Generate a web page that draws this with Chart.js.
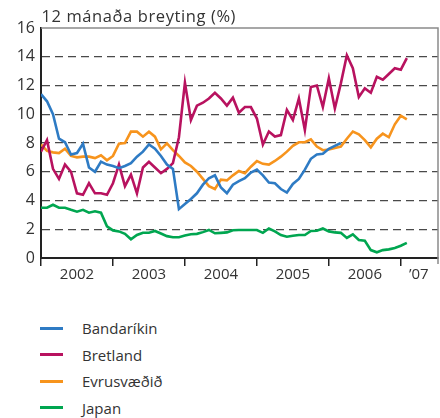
<!DOCTYPE html>
<html>
<head>
<meta charset="utf-8">
<script src="https://cdn.jsdelivr.net/npm/chart.js@4"></script>
<style>
  body { margin: 0; background: #fff; }
  #wrap { position: relative; width: 440px; height: 418px; }
  #chart { position: absolute; left: 0; top: 0; }
  #legend { position: absolute; left: 40px; top: 315px; font: 15px 'Open Sans', sans-serif; color: #333; }
  .item { height: 26.5px; display: flex; align-items: center; }
  .swatch { width: 23px; height: 3px; margin-right: 19px; }
</style>
</head>
<body>
<div id="wrap">
  <canvas id="chart" width="440" height="290"></canvas>
  <div id="legend"></div>
</div>
<script>
'use strict';

// monthly values, Jan 2002 onwards
const seriesNames = ['Bandaríkin', 'Bretland', 'Evrusvæðið', 'Japan'];
const seriesColors = ['#2e7bc4', '#b8125f', '#f7941d', '#00a650'];

const bandarikin = [11.4, 10.9, 10.0, 8.3, 8.05, 7.2, 7.3, 7.95, 6.3, 6.0, 6.7, 6.5,
    6.4, 6.25, 6.4, 6.6, 7.05, 7.4, 7.9, 7.6, 7.1, 6.5, 6.2, 3.4,
    3.75, 4.1, 4.5, 5.1, 5.55, 5.75, 4.9, 4.5, 5.1, 5.35, 5.55, 5.95,
    6.15, 5.75, 5.25, 5.2, 4.8, 4.55, 5.15, 5.5, 6.15, 6.9, 7.2, 7.25,
    7.6, 7.8, 8.0];
const bretland = [7.4, 8.2, 6.2, 5.5, 6.5, 6.0, 4.5, 4.4, 5.2, 4.5, 4.5, 4.4,
    5.2, 6.5, 5.0, 5.8, 4.5, 6.3, 6.7, 6.3, 5.9, 6.2, 6.6, 8.4,
    12.2, 9.6, 10.6, 10.8, 11.1, 11.5, 11.1, 10.6, 11.15, 10.1, 10.5, 10.5,
    9.7, 7.9, 8.8, 8.45, 8.55, 10.3, 9.6, 11.1, 8.9, 11.9, 12.0, 10.5,
    12.5, 10.4, 12.15, 14.1, 13.2, 11.2, 11.8, 11.5, 12.6, 12.4, 12.8, 13.2,
    13.1, 13.9];
const evrusvaedid = [7.9, 7.45, 7.35, 7.3, 7.6, 7.1, 7.0, 7.05, 7.05, 6.95, 7.15, 6.8,
    7.1, 7.95, 8.0, 8.79, 8.79, 8.44, 8.79, 8.44, 7.56, 7.98, 7.5, 7.1,
    6.65, 6.4, 6.0, 5.5, 5.0, 4.8, 5.45, 5.4, 5.75, 6.05, 5.9, 6.35,
    6.75, 6.55, 6.5, 6.75, 7.05, 7.4, 7.8, 8.05, 8.05, 8.25, 7.75, 7.5,
    7.55, 7.65, 7.75, 8.3, 8.8, 8.6, 8.2, 7.7, 8.3, 8.65, 8.4, 9.3,
    9.9, 9.65];
const japan = [3.5, 3.5, 3.7, 3.5, 3.5, 3.35, 3.22, 3.35, 3.15, 3.25, 3.15, 2.2,
    1.92, 1.85, 1.68, 1.3, 1.6, 1.76, 1.76, 1.88, 1.7, 1.52, 1.44, 1.44,
    1.56, 1.65, 1.68, 1.8, 1.95, 1.72, 1.75, 1.78, 1.93, 1.95, 1.95, 1.95,
    1.95, 1.75, 2.05, 1.85, 1.6, 1.48, 1.55, 1.6, 1.6, 1.88, 1.9, 2.05,
    1.85, 1.78, 1.75, 1.4, 1.65, 1.25, 1.2, 0.55, 0.4, 0.55, 0.6, 0.7,
    0.85, 1.05];

// year labels sit between the yearly tick marks
const yearTicks = [0, 12, 24, 36, 48, 60];
const yearLabelPos = [6, 18, 30, 42, 54, 63];
const yearLabels = ['2002', '2003', '2004', '2005', '2006', '\u201907'];
const yTitle = '12 mánaða breyting (%)';

const allSeries = [bandarikin, bretland, evrusvaedid, japan];
const FONT = "'Open Sans', sans-serif";

const datasets = allSeries.map((vals, s) => ({
    label: seriesNames[s],
    data: vals.map((v, i) => ({x: i, y: v})),
    borderColor: seriesColors[s],
    backgroundColor: seriesColors[s],
    borderWidth: 2.6,
    pointRadius: 0,
    tension: 0,
    fill: false
}));

const frame = {
    id: 'frame',
    afterDraw(chart) {
        const {ctx, chartArea: a} = chart;
        ctx.save();
        ctx.strokeStyle = '#8a8a8a';
        ctx.lineWidth = 1.5;
        ctx.beginPath();
        ctx.moveTo(a.left, a.top);
        ctx.lineTo(a.right, a.top);
        ctx.lineTo(a.right, a.bottom + 6);
        ctx.stroke();
        // axis title, top left above the plot
        ctx.fillStyle = '#333';
        ctx.font = '16.5px ' + FONT;
        ctx.letterSpacing = '0.6px';
        ctx.textBaseline = 'alphabetic';
        ctx.textAlign = 'left';
        ctx.fillText(yTitle, a.left + 0.5, 22);
        ctx.restore();
    }
};

const chart = new Chart(document.getElementById('chart'), {
    type: 'line',
    data: {datasets: datasets},
    plugins: [frame],
    options: {
        responsive: false,
        animation: false,
        layout: {padding: {top: 28, right: 2, left: 0, bottom: 0}},
        plugins: {legend: {display: false}, tooltip: {enabled: false}},
        scales: {
            x: {
                type: 'linear',
                min: 0,
                max: 66.2,
                afterBuildTicks: (axis) => {
                    axis.ticks = yearTicks.concat(yearLabelPos)
                        .sort((a, b) => a - b)
                        .map(v => ({value: v}));
                },
                afterFit: (axis) => { axis.height = 32; },
                ticks: {
                    autoSkip: false,
                    maxRotation: 0,
                    padding: 0,
                    color: '#333',
                    font: {family: FONT, size: 15},
                    callback: (v) => {
                        const k = yearLabelPos.indexOf(v);
                        return k >= 0 ? yearLabels[k] : '';
                    }
                },
                grid: {
                    drawOnChartArea: false,
                    tickLength: 8,
                    lineWidth: 1.5,
                    tickColor: (c) => yearTicks.includes(c.tick.value) ? '#222' : 'rgba(0,0,0,0)'
                },
                border: {color: '#222', width: 2}
            },
            y: {
                min: 0,
                max: 16,
                afterFit: (axis) => { axis.width = 41; },
                ticks: {
                    stepSize: 2,
                    padding: 6,
                    color: '#333',
                    font: {family: FONT, size: 16}
                },
                grid: {
                    drawTicks: false,
                    lineWidth: 1.3,
                    color: (c) => (c.tick.value === 0 || c.tick.value === 16) ? 'rgba(0,0,0,0)' : '#4a4a4a'
                },
                border: {color: '#222', width: 2, dash: [8, 5]}
            }
        }
    }
});

// legend as a vertical list under the chart
const legend = document.getElementById('legend');
chart.data.datasets.forEach(ds => {
    const row = document.createElement('div');
    row.className = 'item';
    const sw = document.createElement('span');
    sw.className = 'swatch';
    sw.style.background = ds.borderColor;
    const txt = document.createElement('span');
    txt.textContent = ds.label;
    row.appendChild(sw);
    row.appendChild(txt);
    legend.appendChild(row);
});
</script>
</body>
</html>
